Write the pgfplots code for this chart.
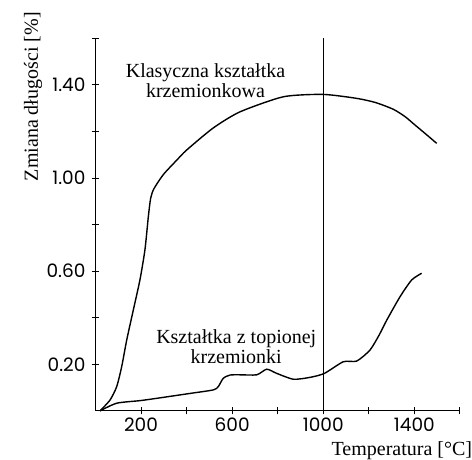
\documentclass[border=0pt]{standalone}
\usepackage{pgfplots}
\pgfplotsset{compat=1.18}
\usepackage{fontspec}
\setmainfont{Liberation Serif}
\newfontfamily\tickfont{Poppins}
\begin{document}
\begin{tikzpicture}
\useasboundingbox (-95.5pt,-49.1pt) rectangle (376.5pt,410.9pt);
\begin{axis}[
  scale only axis, width=364.4pt, height=372.6pt,
  xmin=0, xmax=1600, ymin=0, ymax=1.6,
  axis x line*=bottom, axis y line*=left,
  axis line style={line width=1.2pt, black},
  xtick={200,600,1000,1400}, minor xtick={400,800,1200,1600},
  ytick={0.2,0.6,1.0,1.4}, minor ytick={0.4,0.8,1.2,1.6},
  tick align=center, major tick length=7pt, minor tick length=7pt,
  every tick/.style={line width=1pt, black},
  minor tick style={line width=1pt, black},
  /pgf/number format/assume math mode=true,
  /pgf/number format/1000 sep={},
  y tick label style={/pgf/number format/fixed, /pgf/number format/fixed zerofill, /pgf/number format/precision=2, xshift=-3pt},
  x tick label style={yshift=0pt},
  tick label style={font=\fontsize{18.5}{18.5}\selectfont\tickfont},
  clip=false,
]
% vertical reference line
\addplot[black, line width=0.8pt] coordinates {(1000,0) (1000,1.6)};
% Klasyczna ksztaltka krzemionkowa
\addplot[black, line width=1.4pt, smooth, tension=0.4] coordinates {
(20,0) (64,0.047) (93,0.104) (115,0.190) (137,0.304) (166,0.433) (195,0.562) (217,0.691) (232,0.834) (242,0.912) (256,0.953) (298,1.015) (357,1.077) (400,1.120) (517,1.215) (634,1.284) (825,1.349) (1000,1.359) (1147,1.342) (1230,1.324) (1308,1.295) (1360,1.263) (1400,1.230) (1450,1.189) (1498,1.149)
};
% Ksztaltka z topionej krzemionki
\addplot[black, line width=1.4pt, smooth, tension=0.4] coordinates {
(20,0) (93,0.033) (195,0.044) (269,0.054) (415,0.075) (517,0.090) (539,0.104) (561,0.140) (591,0.154) (634,0.155) (708,0.155) (752,0.179) (796,0.161) (869,0.136) (942,0.144) (1005,0.161) (1088,0.211) (1147,0.214) (1205,0.261) (1245,0.325) (1279,0.390) (1337,0.490) (1388,0.562) (1432,0.591)
};
\node[align=center, font=\fontsize{20}{20}\selectfont] at (axis cs:483,1.42) {Klasyczna kształtka\\krzemionkowa};
\node[align=center, font=\fontsize{20}{20}\selectfont] at (axis cs:618,0.276) {Kształtka z topionej\\krzemionki};
\node[font=\fontsize{20}{20}\selectfont] at (axis cs:1345,-0.172) {Temperatura [\textdegree C]};
\node[rotate=90, font=\fontsize{20}{20}\selectfont] at (axis cs:-274,1.349) {Zmiana długości [\%]};
\end{axis}
\end{tikzpicture}
\end{document}
